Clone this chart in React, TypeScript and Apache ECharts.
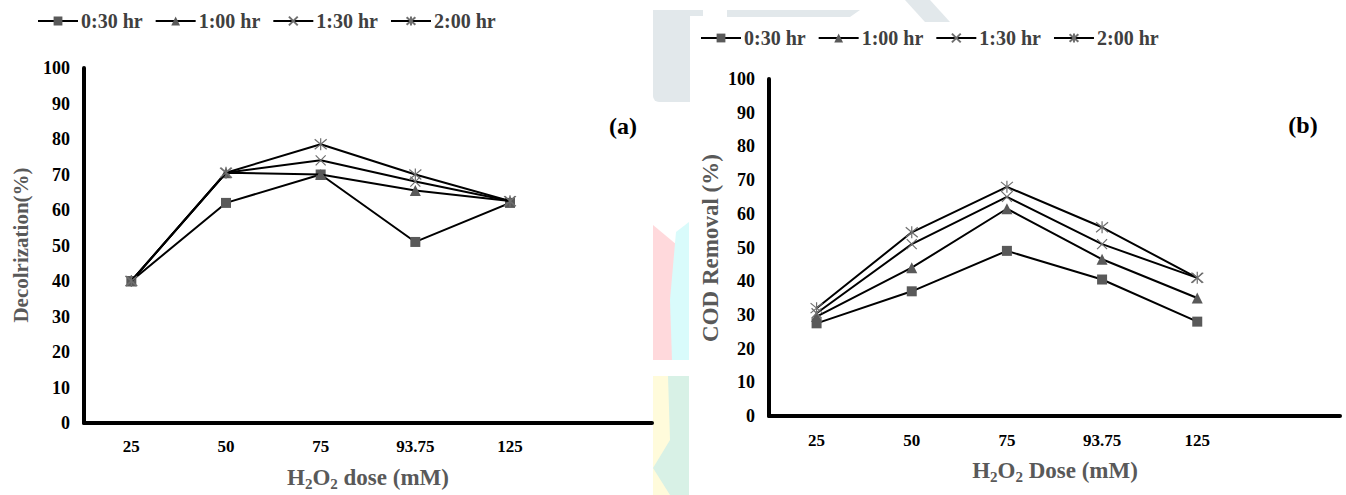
import React, { useEffect, useRef } from 'react';
import * as echarts from 'echarts';

// ---------- data ----------
const doseCategories = ['25', '50', '75', '93.75', '125', ''];
const seriesNames = ['0:30 hr', '1:00 hr', '1:30 hr', '2:00 hr'];

const decol_0_30 = [40, 62, 70, 51, 62];
const decol_1_00 = [40, 70.5, 70, 65.5, 62.5];
const decol_1_30 = [40, 70.5, 74, 68, 62.5];
const decol_2_00 = [40, 70.5, 78.5, 70, 62.5];

const cod_0_30 = [27.5, 37, 49, 40.5, 28];
const cod_1_00 = [29.5, 44, 61.5, 46.5, 35];
const cod_1_30 = [30.5, 51, 65, 51, 41];
const cod_2_00 = [32, 54.5, 68, 56, 41];

const yMin = 0;
const yMax = 100;
const yStep = 10;

// ---------- styles ----------
const FONT = "'Liberation Serif', 'Times New Roman', serif";
const MARK = '#595959';
const TITLE = '#595959';
const CROSS = 'path://M0,0L10,10M10,0L0,10';
const STAR = 'path://M0,0L10,10M10,0L0,10M5,-1L5,11';

const markerDefs = [
  { symbol: 'rect', size: 10, itemStyle: { color: MARK } },
  { symbol: 'triangle', size: 11, itemStyle: { color: MARK } },
  { symbol: CROSS, size: 10, itemStyle: { color: 'transparent', borderColor: '#6f6f6f', borderWidth: 1.2 } },
  { symbol: STAR, size: 12, itemStyle: { color: 'transparent', borderColor: '#6f6f6f', borderWidth: 1.2 } },
];

function makeSeries(name: string, data: number[], k: number, gi: number) {
  const m = markerDefs[k];
  return {
    type: 'line',
    name,
    xAxisIndex: gi,
    yAxisIndex: gi,
    data,
    symbol: m.symbol,
    symbolSize: m.size,
    showSymbol: true,
    itemStyle: m.itemStyle,
    lineStyle: { color: '#000', width: 2 },
    emphasis: { disabled: true },
    z: 3 + k,
  };
}

function subTitle(x: number, y: number, rest: string) {
  return {
    type: 'text',
    x,
    y,
    style: {
      text: '{n|H}{s|2}{n|O}{s|2}{n|' + rest + '}',
      align: 'center',
      verticalAlign: 'middle',
      rich: {
        n: { fontSize: 23, fontWeight: 'bold', fontFamily: FONT, fill: TITLE, lineHeight: 28, verticalAlign: 'middle' },
        s: { fontSize: 15, fontWeight: 'bold', fontFamily: FONT, fill: TITLE, lineHeight: 11, verticalAlign: 'bottom' },
      },
    },
  };
}

function yTitle(x: number, y: number, text: string, size: number) {
  return {
    type: 'text',
    x,
    y,
    rotation: Math.PI / 2,
    style: {
      text,
      align: 'center',
      verticalAlign: 'middle',
      fontSize: size,
      fontWeight: 'bold',
      fontFamily: FONT,
      fill: TITLE,
    },
  };
}

function panelTag(x: number, y: number, text: string) {
  return {
    type: 'text',
    x,
    y,
    style: { text, align: 'center', verticalAlign: 'middle', fontSize: 24, fontWeight: 'bold', fontFamily: FONT, fill: '#000' },
  };
}

function legendAt(left: number, top: number) {
  return {
    left,
    top,
    padding: 0,
    itemWidth: 40,
    itemHeight: 11,
    itemGap: 12,
    selectedMode: false,
    textStyle: { fontSize: 20, fontWeight: 'bold', fontFamily: FONT, color: '#404040', padding: [0, 0, 0, -2] },
    data: seriesNames,
  };
}

function xAxisFor(gi: number, margin: number) {
  return {
    type: 'category',
    gridIndex: gi,
    data: doseCategories,
    boundaryGap: true,
    axisLine: { lineStyle: { color: '#000', width: 4 } },
    axisTick: { show: false },
    axisLabel: { interval: 0, margin, fontSize: 17, fontWeight: 'bold', fontFamily: FONT, color: '#000' },
    splitLine: { show: false },
  };
}

function yAxisFor(gi: number, margin: number) {
  return {
    type: 'value',
    gridIndex: gi,
    min: yMin,
    max: yMax,
    interval: yStep,
    axisLine: { show: true, lineStyle: { color: '#000', width: 4 } },
    axisTick: { show: false },
    axisLabel: { margin, fontSize: 18, fontWeight: 'bold', fontFamily: FONT, color: '#000' },
    splitLine: { show: false },
  };
}

const WM = '#e2e8eb';

export default function App() {
  const ref = useRef<HTMLDivElement>(null);
  useEffect(() => {
    if (!ref.current) return;
    const chart = echarts.init(ref.current, undefined, { renderer: 'svg' });
    const decol = [decol_0_30, decol_1_00, decol_1_30, decol_2_00];
    const cod = [cod_0_30, cod_1_00, cod_1_30, cod_2_00];
    const series: any[] = [];
    decol.forEach((d, k) => series.push(makeSeries(seriesNames[k], d, k, 0)));
    cod.forEach((d, k) => series.push(makeSeries(seriesNames[k], d, k, 1)));
    chart.setOption({
      animation: false,
      backgroundColor: '#fff',
      grid: [
        { left: 84, top: 68, width: 568, height: 355 },
        { left: 769, top: 79, width: 571, height: 337 },
      ],
      legend: [legendAt(37, 11), legendAt(700, 28)],
      xAxis: [xAxisFor(0, 15), xAxisFor(1, 16)],
      yAxis: [yAxisFor(0, 14), yAxisFor(1, 14)],
      series,
      graphic: [
        // faint watermark
        { type: 'rect', z: -10, shape: { x: 653, y: 10, width: 37, height: 92, r: [0, 0, 0, 6] }, style: { fill: WM } },
        { type: 'rect', z: -10, shape: { x: 653, y: 10, width: 50, height: 6 }, style: { fill: WM } },
        { type: 'polygon', z: -10, shape: { points: [[727, 10], [860, 10], [850, 17], [727, 17]] }, style: { fill: WM } },
        { type: 'polygon', z: -10, shape: { points: [[905, 0], [930, 0], [950, 22], [925, 22]] }, style: { fill: WM } },
        { type: 'polygon', z: -10, shape: { points: [[653, 225], [689, 255], [689, 360], [653, 360]] }, style: { fill: '#ffd9dc' } },
        { type: 'polygon', z: -10, shape: { points: [[676, 232], [689, 222], [689, 360], [672, 360], [670, 300]] }, style: { fill: '#d9fbfb' } },
        { type: 'rect', z: -10, shape: { x: 653, y: 376, width: 36, height: 119 }, style: { fill: '#fffbdb' } },
        { type: 'polygon', z: -10, shape: { points: [[668, 376], [689, 376], [689, 495], [670, 495], [653, 468], [670, 440]] }, style: { fill: '#d8f1e6' } },
        // titles
        subTitle(368, 477, ' dose (mM)'),
        subTitle(1055, 470, ' Dose (mM)'),
        yTitle(21, 245, 'Decolrization(%)', 21),
        yTitle(710, 248, 'COD Removal (%)', 23),
        panelTag(623, 126, '(a)'),
        panelTag(1303, 125, '(b)'),
      ],
    });
    return () => chart.dispose();
  }, []);
  return (
    <div
      ref={ref}
      style={{ position: 'fixed', left: 0, top: 0, width: 1346, height: 495, background: '#fff' }}
    />
  );
}
